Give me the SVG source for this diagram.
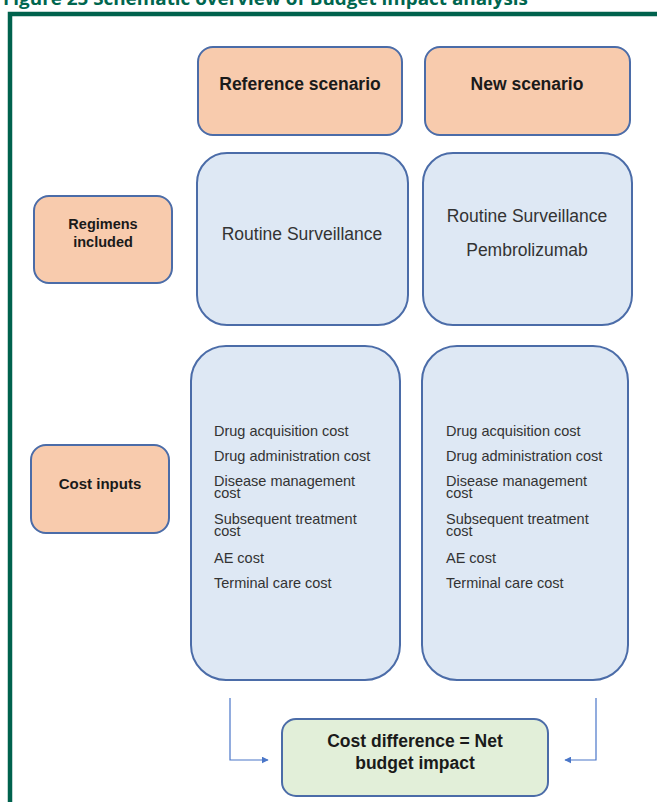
<svg xmlns="http://www.w3.org/2000/svg" width="657" height="802" viewBox="0 0 657 802">
  <defs>
    <marker id="arrow" viewBox="0 0 10 10" refX="9" refY="5" markerWidth="7" markerHeight="7" orient="auto" markerUnits="userSpaceOnUse">
      <path d="M0,0 L10,5 L0,10 z" fill="#4a76c8"/>
    </marker>
  </defs>
  <style>
    .head { fill: #f8cbad; stroke: #4b6ca8; stroke-width: 2; }
    .body { fill: #dee8f4; stroke: #4b6ca8; stroke-width: 2; }
    .result { fill: #e2efd9; stroke: #4b6ca8; stroke-width: 2; }
    .bold { font-family: "Liberation Sans", Arial, sans-serif; font-weight: bold; fill: #1a1a1a; text-anchor: middle; }
    .plain { font-family: "Liberation Sans", Arial, sans-serif; fill: #333333; }
    .conn { fill: none; stroke: #4a76c8; stroke-width: 1.2; }
  </style>

  <rect width="657" height="802" fill="#ffffff"/>

  <!-- caption, partly above the page edge -->
  <text x="3" y="5" font-family="'Open Sans', 'Liberation Sans', sans-serif" font-weight="bold" font-size="17" fill="#00664f" textLength="525" lengthAdjust="spacingAndGlyphs">Figure 25 Schematic overview of Budget impact analysis</text>

  <!-- figure frame -->
  <rect x="10" y="14" width="680" height="820" fill="none" stroke="#00624d" stroke-width="4.5"/>

  <g id="reference-scenario">
    <rect class="head" x="198" y="47" width="204" height="88" rx="15"/>
    <text class="bold" x="300" y="90" font-size="17.5">Reference scenario</text>
  </g>

  <g id="new-scenario">
    <rect class="head" x="425" y="47" width="205" height="88" rx="15"/>
    <text class="bold" x="527" y="90" font-size="17.5">New scenario</text>
  </g>

  <g id="regimens-included">
    <rect class="head" x="34" y="196" width="138" height="87" rx="15"/>
    <text class="bold" x="103" y="229" font-size="14.5">Regimens</text>
    <text class="bold" x="103" y="247" font-size="14.5">included</text>
  </g>

  <g id="cost-inputs">
    <rect class="head" x="31" y="445" width="138" height="88" rx="15"/>
    <text class="bold" x="100" y="489" font-size="15">Cost inputs</text>
  </g>

  <g id="reference-regimens">
    <rect class="body" x="197" y="153" width="211" height="172" rx="30"/>
    <text class="plain" x="302" y="240" font-size="17.5" text-anchor="middle">Routine Surveillance</text>
  </g>

  <g id="new-regimens">
    <rect class="body" x="423" y="153" width="209" height="172" rx="30"/>
    <text class="plain" x="527" y="222" font-size="17.5" text-anchor="middle">Routine Surveillance</text>
    <text class="plain" x="527" y="256" font-size="17.5" text-anchor="middle">Pembrolizumab</text>
  </g>

  <g id="reference-costs">
    <rect class="body" x="191" y="346" width="209" height="334" rx="35"/>
    <g class="plain" font-size="14.5">
      <text x="214" y="436">Drug acquisition cost</text>
      <text x="214" y="461">Drug administration cost</text>
      <text x="214" y="486">Disease management</text>
      <text x="214" y="498">cost</text>
      <text x="214" y="524">Subsequent treatment</text>
      <text x="214" y="536">cost</text>
      <text x="214" y="563">AE cost</text>
      <text x="214" y="588">Terminal care cost</text>
    </g>
  </g>

  <g id="new-costs">
    <rect class="body" x="422" y="346" width="206" height="334" rx="35"/>
    <g class="plain" font-size="14.5">
      <text x="446" y="436">Drug acquisition cost</text>
      <text x="446" y="461">Drug administration cost</text>
      <text x="446" y="486">Disease management</text>
      <text x="446" y="498">cost</text>
      <text x="446" y="524">Subsequent treatment</text>
      <text x="446" y="536">cost</text>
      <text x="446" y="563">AE cost</text>
      <text x="446" y="588">Terminal care cost</text>
    </g>
  </g>

  <g id="net-budget-impact">
    <rect class="result" x="282" y="719" width="266" height="77" rx="14"/>
    <text class="bold" x="415" y="747" font-size="17.5">Cost difference = Net</text>
    <text class="bold" x="415" y="769" font-size="17.5">budget impact</text>
  </g>

  <g id="connectors">
    <path class="conn" d="M230,698 V760 H268" marker-end="url(#arrow)"/>
    <path class="conn" d="M596,698 V760 H565" marker-end="url(#arrow)"/>
  </g>
</svg>
